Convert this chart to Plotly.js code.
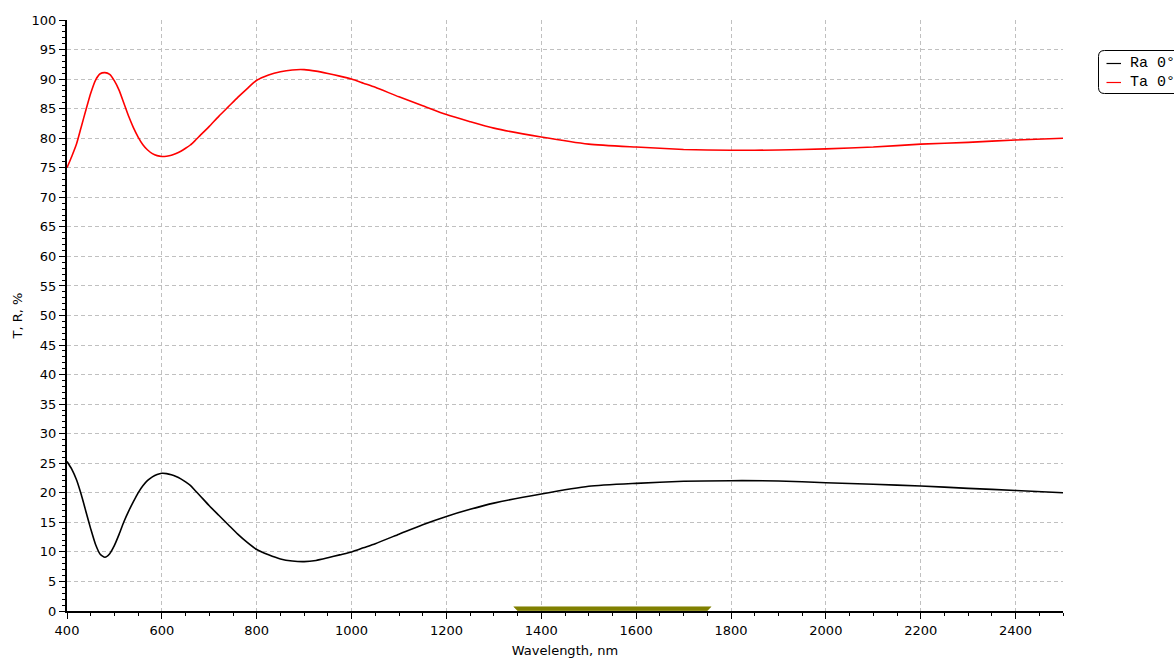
<!DOCTYPE html>
<html>
<head>
<meta charset="utf-8">
<script src="https://cdn.plot.ly/plotly-3.0.1.min.js"></script>
<style>
  html, body { margin: 0; padding: 0; background: #ffffff; }
  #chart { width: 1174px; height: 660px; }
</style>
</head>
<body>
<div id="chart"></div>
<script>
// Wavelength grid, nm
const wavelength = [400, 410, 420, 430, 440, 450, 460, 470, 480, 490,
  500, 510, 520, 530, 540, 550, 560, 570, 580, 590,
  600, 610, 620, 630, 640, 650, 660, 670,
  680, 700, 720, 740, 760, 780, 800,
  825, 850, 875, 900, 925, 950, 975, 1000,
  1025, 1050, 1100, 1150, 1200, 1250, 1300,
  1400, 1500, 1600, 1700, 1800, 1900, 2000, 2100, 2200, 2300, 2400, 2500];

// Reflectance at normal incidence, %
const ra0 = [25.3, 24.0, 22.2, 19.7, 16.8, 13.9, 11.3, 9.6, 9.1, 9.7,
  11.1, 13.0, 15.1, 16.9, 18.5, 20.0, 21.2, 22.1, 22.7, 23.1,
  23.3, 23.25, 23.05, 22.75, 22.35, 21.85, 21.25, 20.4,
  19.55, 17.8, 16.2, 14.6, 13.0, 11.6, 10.4,
  9.5, 8.8, 8.45, 8.35, 8.55, 9.0, 9.5, 10.0,
  10.7, 11.4, 13.0, 14.6, 16.0, 17.2, 18.25,
  19.8, 21.1, 21.6, 21.95, 22.05, 22.0, 21.7, 21.45, 21.15, 20.75, 20.4, 20.0];

// Transmittance at normal incidence, %
const ta0 = [75.0, 76.9, 79.0, 81.9, 84.8, 87.6, 89.8, 90.9, 91.1, 90.8,
  89.7, 88.1, 85.9, 83.7, 81.8, 80.2, 78.9, 78.0, 77.4, 77.05,
  76.9, 76.95, 77.1, 77.4, 77.8, 78.3, 78.85, 79.6,
  80.4, 82.0, 83.7, 85.3, 86.9, 88.4, 89.8,
  90.7, 91.25, 91.55, 91.6, 91.35, 90.95, 90.5, 90.0,
  89.3, 88.6, 87.0, 85.5, 84.0, 82.8, 81.7,
  80.2, 79.0, 78.5, 78.1, 77.95, 78.0, 78.2, 78.5, 79.0, 79.3, 79.7, 80.0];

// Working spectral band, nm
const bandLo = 1350;
const bandHi = 1750;

const seriesNames = ['Ra 0\u00b0', 'Ta 0\u00b0'];
const seriesColors = ['#000000', '#ff0000'];

const W = 1174, H = 660;
const M = { l: 67, r: 111, t: 20, b: 49 };
const plotW = W - M.l - M.r, plotH = H - M.t - M.b;
const px = x => (x - M.l) / plotW;
const py = y => (H - M.b - y) / plotH;

const traces = [
  {
    x: wavelength, y: ra0, name: seriesNames[0], type: 'scatter', mode: 'lines',
    line: { color: seriesColors[0], width: 1.6, shape: 'spline', smoothing: 0.6 },
    hoverinfo: 'x+y+name'
  },
  {
    x: wavelength, y: ta0, name: seriesNames[1], type: 'scatter', mode: 'lines',
    line: { color: seriesColors[1], width: 1.6, shape: 'spline', smoothing: 0.6 },
    hoverinfo: 'x+y+name'
  },
  {
    // band marker sitting on the wavelength axis
    x: [bandLo - 8, bandHi + 8, bandHi, bandLo, bandLo - 8],
    y: [0.72, 0.72, 0.05, 0.05, 0.72],
    type: 'scatter', mode: 'lines', fill: 'toself',
    fillcolor: '#808000', line: { color: '#808000', width: 0.5 },
    hoverinfo: 'skip', showlegend: false, cliponaxis: false
  }
];

// custom legend box with rounded corners
const lgL = 1098.5, lgT = 50.5, lgB = 93.5, lgR = 1200, rad = 6;
const lgPath = [
  'M', px(lgL + rad), py(lgT),
  'L', px(lgR), py(lgT),
  'L', px(lgR), py(lgB),
  'L', px(lgL + rad), py(lgB),
  'Q', px(lgL), py(lgB), px(lgL), py(lgB - rad),
  'L', px(lgL), py(lgT + rad),
  'Q', px(lgL), py(lgT), px(lgL + rad), py(lgT), 'Z'
].join(' ');

const rowsY = [63.5, 82.5];
const shapes = [
  { type: 'path', xref: 'paper', yref: 'paper', path: lgPath,
    line: { color: '#000000', width: 1 }, fillcolor: '#ffffff', layer: 'above' }
];
const annotations = [];
seriesNames.forEach((nm, i) => {
  shapes.push({ type: 'line', xref: 'paper', yref: 'paper',
    x0: px(1106.5), x1: px(1121), y0: py(rowsY[i]), y1: py(rowsY[i]),
    line: { color: seriesColors[i], width: 1.2 }, layer: 'above' });
  annotations.push({ xref: 'paper', yref: 'paper', x: px(1128), y: py(rowsY[i]),
    xanchor: 'left', yanchor: 'middle', showarrow: false, text: nm,
    font: { family: 'Liberation Mono, Courier New, monospace', size: 15, color: '#000000' } });
});

const axisCommon = {
  showline: true, linecolor: '#000000', linewidth: 2, mirror: false,
  ticks: 'outside', ticklen: 6, tickwidth: 1, tickcolor: '#000000',
  showgrid: true, gridcolor: '#c0c0c0', gridwidth: 1, griddash: '4px,3px',
  zeroline: false,
  tickfont: { family: 'DejaVu Sans, sans-serif', size: 13, color: '#000000' }
};

const layout = {
  width: W, height: H,
  margin: M,
  paper_bgcolor: '#ffffff', plot_bgcolor: '#ffffff',
  showlegend: false,
  xaxis: Object.assign({}, axisCommon, {
    range: [400, 2500], tick0: 400, dtick: 200,
    minor: { dtick: 50, ticklen: 3, tickcolor: '#000000', showgrid: false, ticks: 'outside' },
    title: { text: 'Wavelength, nm', standoff: 9,
      font: { family: 'DejaVu Sans, sans-serif', size: 13, color: '#000000' } }
  }),
  yaxis: Object.assign({}, axisCommon, {
    range: [0, 100], tick0: 0, dtick: 5,
    minor: { dtick: 1, ticklen: 3, tickcolor: '#000000', showgrid: false, ticks: 'outside' },
    title: { text: 'T, R, %', standoff: 6,
      font: { family: 'DejaVu Sans, sans-serif', size: 13, color: '#000000' } }
  }),
  shapes: shapes,
  annotations: annotations
};

Plotly.newPlot('chart', traces, layout, { displayModeBar: false });
</script>
</body>
</html>
